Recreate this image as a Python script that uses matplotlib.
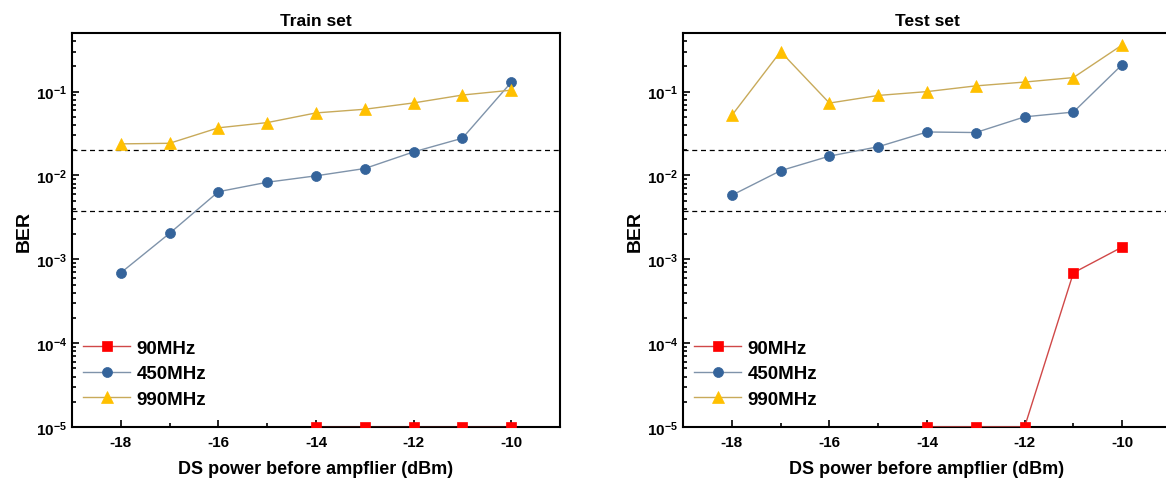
import numpy as np
import matplotlib
matplotlib.use('Agg')
import matplotlib.pyplot as plt
from matplotlib.ticker import FixedLocator, LogLocator, FuncFormatter, NullFormatter

plt.rcParams['font.family'] = ['Liberation Sans', 'DejaVu Sans']
plt.rcParams['font.weight'] = 'bold'
plt.rcParams['mathtext.fontset'] = 'custom'
plt.rcParams['mathtext.rm'] = 'Liberation Sans:bold'
plt.rcParams['mathtext.default'] = 'rm'
plt.rcParams['axes.unicode_minus'] = False

# data
power = [-18, -17, -16, -15, -14, -13, -12, -11, -10]
labels = ['90MHz', '450MHz', '990MHz']

train_90 = [np.nan, np.nan, np.nan, np.nan, 1e-5, 1e-5, 1e-5, 1e-5, 1e-5]
train_450 = [6.9e-4, 2.04e-3, 6.4e-3, 8.3e-3, 9.9e-3, 1.21e-2, 1.91e-2, 2.78e-2, 0.129]
train_990 = [0.0238, 0.0242, 0.037, 0.0427, 0.0557, 0.0616, 0.0733, 0.091, 0.104]

test_90 = [np.nan, np.nan, np.nan, np.nan, 1e-5, 1e-5, 1e-5, 6.9e-4, 1.4e-3]
test_450 = [5.8e-3, 0.0114, 0.017, 0.022, 0.033, 0.0325, 0.050, 0.057, 0.21]
test_990 = [0.052, 0.30, 0.073, 0.090, 0.100, 0.117, 0.13, 0.147, 0.36]

thresholds = [2e-2, 3.8e-3]

# style per series: marker, fill, line colour, marker size
styles = [
    ('s', '#ff0000', '#d04848', 7),
    ('o', '#35649b', '#7f93aa', 7.2),
    ('^', '#ffc000', '#c8aa5a', 9),
]


def pow_label(v, pos):
    e = int(round(np.log10(v)))
    return '10$^{%d}$' % e


fig = plt.figure(figsize=(11.66, 4.89), dpi=100)
ax1 = fig.add_axes([72 / 1166, 61 / 489, 488 / 1166, 394 / 489])
ax2 = fig.add_axes([683 / 1166, 61 / 489, 488 / 1166, 394 / 489])

panels = [(ax1, 'Train set', [train_90, train_450, train_990]),
          (ax2, 'Test set', [test_90, test_450, test_990])]

for ax, title, series in panels:
    for ys, lab, (mk, fc, lc, ms) in zip(series, labels, styles):
        ax.plot(power, ys, color=lc, lw=1.0, marker=mk, ms=ms,
                markerfacecolor=fc, markeredgecolor=fc, markeredgewidth=0.5,
                label=lab, zorder=3)

    # FEC thresholds
    for t in thresholds:
        ax.axhline(t, color='black', lw=0.9, ls=(0, (4, 3)), zorder=2)

    ax.set_yscale('log')
    ax.set_xlim(-19, -9)
    ax.set_ylim(1e-5, 0.5)

    ax.xaxis.set_major_locator(FixedLocator([-18, -16, -14, -12, -10]))
    ax.xaxis.set_minor_locator(FixedLocator([-17, -15, -13, -11]))
    ax.yaxis.set_major_locator(LogLocator(base=10, numticks=10))
    ax.yaxis.set_minor_locator(LogLocator(base=10, subs=np.arange(2, 10), numticks=20))
    ax.yaxis.set_major_formatter(FuncFormatter(pow_label))
    ax.yaxis.set_minor_formatter(NullFormatter())

    ax.tick_params(which='both', direction='in', top=False, right=False,
                   labelsize=11, width=1.2)
    ax.tick_params(which='major', length=5)
    ax.tick_params(which='minor', length=3)
    ax.tick_params(axis='x', pad=6)
    for lbl in ax.get_xticklabels() + ax.get_yticklabels():
        lbl.set_fontweight('bold')

    for sp in ax.spines.values():
        sp.set_linewidth(1.5)

    ax.set_title(title, fontsize=12.5, fontweight='bold', pad=6)
    ax.set_xlabel('DS power before ampflier (dBm)', fontsize=13, fontweight='bold', labelpad=8)
    ax.set_ylabel('BER', fontsize=14, fontweight='bold', labelpad=2)

    ax.legend(loc='lower left', bbox_to_anchor=(0.0, 0.02), frameon=False,
              prop={'size': 13.5, 'weight': 'bold'}, handlelength=2.5,
              handletextpad=0.35, labelspacing=0.45, borderaxespad=0.2)

fig.savefig('out.png', dpi=100)
